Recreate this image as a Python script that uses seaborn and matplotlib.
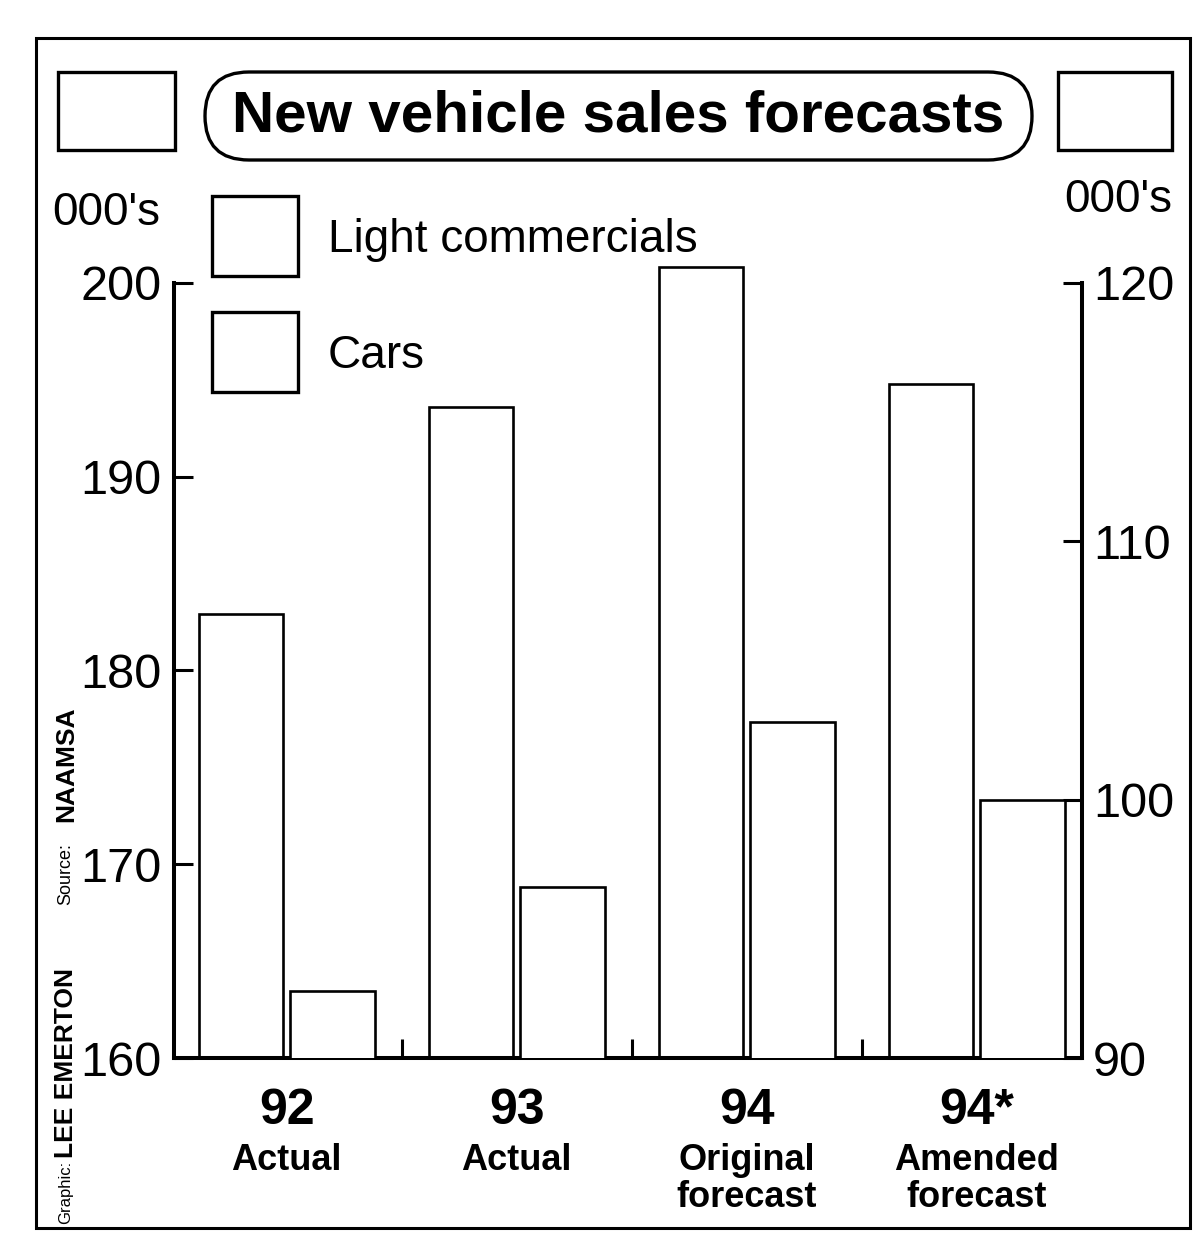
import numpy as np
import pandas as pd
import matplotlib
matplotlib.use("Agg")
import matplotlib.pyplot as plt
import seaborn as sns
from matplotlib.patches import Rectangle, FancyBboxPatch
from matplotlib.transforms import blended_transform_factory

# New vehicle sales, thousands of units
years = ["92", "93", "94", "94*"]
subtitles = ["Actual", "Actual", "Original\nforecast", "Amended\nforecast"]
cars = [182.9, 193.6, 200.8, 194.8]              # left axis
light_commercials = [92.6, 96.6, 103.0, 100.0]   # right axis
left_ticks = [160, 170, 180, 190, 200]
right_ticks = [90, 100, 110, 120]

W, H = 1201, 1234


def fx(px):
    return px / W


def fy(py):
    return 1 - py / H


sns.set_style("white")
plt.rcParams["font.family"] = ["Liberation Sans", "DejaVu Sans"]
plt.rcParams["text.color"] = "black"
plt.rcParams["xtick.color"] = "black"
plt.rcParams["ytick.color"] = "black"

fig = plt.figure(figsize=(W / 100, H / 100), dpi=100)
ax = fig.add_axes([fx(174), fy(1058), fx(1082) - fx(174), (1058 - 244) / H])
ax2 = ax.twinx()

pos = np.arange(len(years))
off = 0.199
bar_kw = dict(color="white", edgecolor="black", linewidth=1.9, native_scale=True,
              width=0.368, orient="x", errorbar=None, saturation=1)
sns.barplot(x=pos - off, y=cars, ax=ax, **bar_kw)
sns.barplot(x=pos + off, y=light_commercials, ax=ax2, **bar_kw)

ax.set_xlim(-0.49, 3.457)
ax.set_ylim(160, 202)
ax2.set_ylim(90, 121.5)

for s in ["top", "right"]:
    ax.spines[s].set_visible(False)
for s in ["top", "left", "bottom"]:
    ax2.spines[s].set_visible(False)
for sp in [ax.spines["left"], ax.spines["bottom"], ax2.spines["right"]]:
    sp.set_linewidth(2.9)
    sp.set_color("black")
ax.spines["left"].set_bounds(160, 200)
ax2.spines["right"].set_bounds(90, 120)

ax.set_yticks(left_ticks)
ax.tick_params(axis="y", left=True, direction="in", length=14, width=2.2,
               labelsize=35, pad=9, colors="black")
ax2.set_yticks(right_ticks)
ax2.tick_params(axis="y", right=True, direction="in", length=14, width=2.2,
                labelsize=35, pad=8, colors="black")
ax.set_xticks(pos[:-1] + 0.5)
ax.set_xticklabels([])
ax.tick_params(axis="x", bottom=True, direction="in", length=14, width=2.2, colors="black")
for a in (ax, ax2):
    a.set_xlabel("")
    a.set_ylabel("")

# group labels under the bars
tr = blended_transform_factory(ax.transData, ax.transAxes)
for i, (yr, sub) in enumerate(zip(years, subtitles)):
    ax.text(i, -0.081, yr, transform=tr, ha="center", va="baseline",
            fontsize=36, fontweight="bold")
    for j, line in enumerate(sub.split("\n")):
        ax.text(i, -0.1376 - 0.046 * j, line, transform=tr, ha="center", va="baseline",
                fontsize=26, fontweight="bold")

# outer frame, title pill and the empty corner boxes
fig.add_artist(Rectangle((fx(36), fy(1228)), fx(1190) - fx(36), (1228 - 38) / H,
                         transform=fig.transFigure, fill=False, ec="black", lw=2.2))
fig.add_artist(Rectangle((fx(58), fy(150)), fx(175) - fx(58), (150 - 72) / H,
                         transform=fig.transFigure, fill=False, ec="black", lw=2.4))
fig.add_artist(Rectangle((fx(1058), fy(150)), fx(1172) - fx(1058), (150 - 72) / H,
                         transform=fig.transFigure, fill=False, ec="black", lw=2.4))
fig.add_artist(FancyBboxPatch((2.05, (H - 160) / 100), 8.27, 0.88,
                              boxstyle="round,pad=0,rounding_size=0.44",
                              transform=fig.dpi_scale_trans, fill=False, ec="black", lw=2.4))
fig.text(fx(618), fy(116), "New vehicle sales forecasts", ha="center", va="center",
         fontsize=42, fontweight="bold")

# axis unit labels
fig.text(fx(52), fy(213), "000's", ha="left", va="center", fontsize=33)
fig.text(fx(1172), fy(200), "000's", ha="right", va="center", fontsize=33)

# legend
legend_rows = [("Light commercials", 236), ("Cars", 352)]
for label, cy in legend_rows:
    fig.add_artist(Rectangle((fx(212), fy(cy + 40)), fx(298) - fx(212), 80 / H,
                             transform=fig.transFigure, fill=False, ec="black", lw=2.4))
    fig.text(fx(328), fy(cy + 4), label, ha="left", va="center", fontsize=33)

# credit line along the left edge
credits = [("Graphic:", 1224, 12, "normal"), ("LEE EMERTON", 1158, 19, "bold"),
           ("Source:", 905, 13, "normal"), ("NAAMSA", 822, 19, "bold")]
for txt, ybot, fs, fw in credits:
    fig.text(fx(66), fy(ybot), txt, rotation=90, ha="center", va="bottom",
             fontsize=fs, fontweight=fw)

fig.savefig("out.png", dpi=100, facecolor="white")
